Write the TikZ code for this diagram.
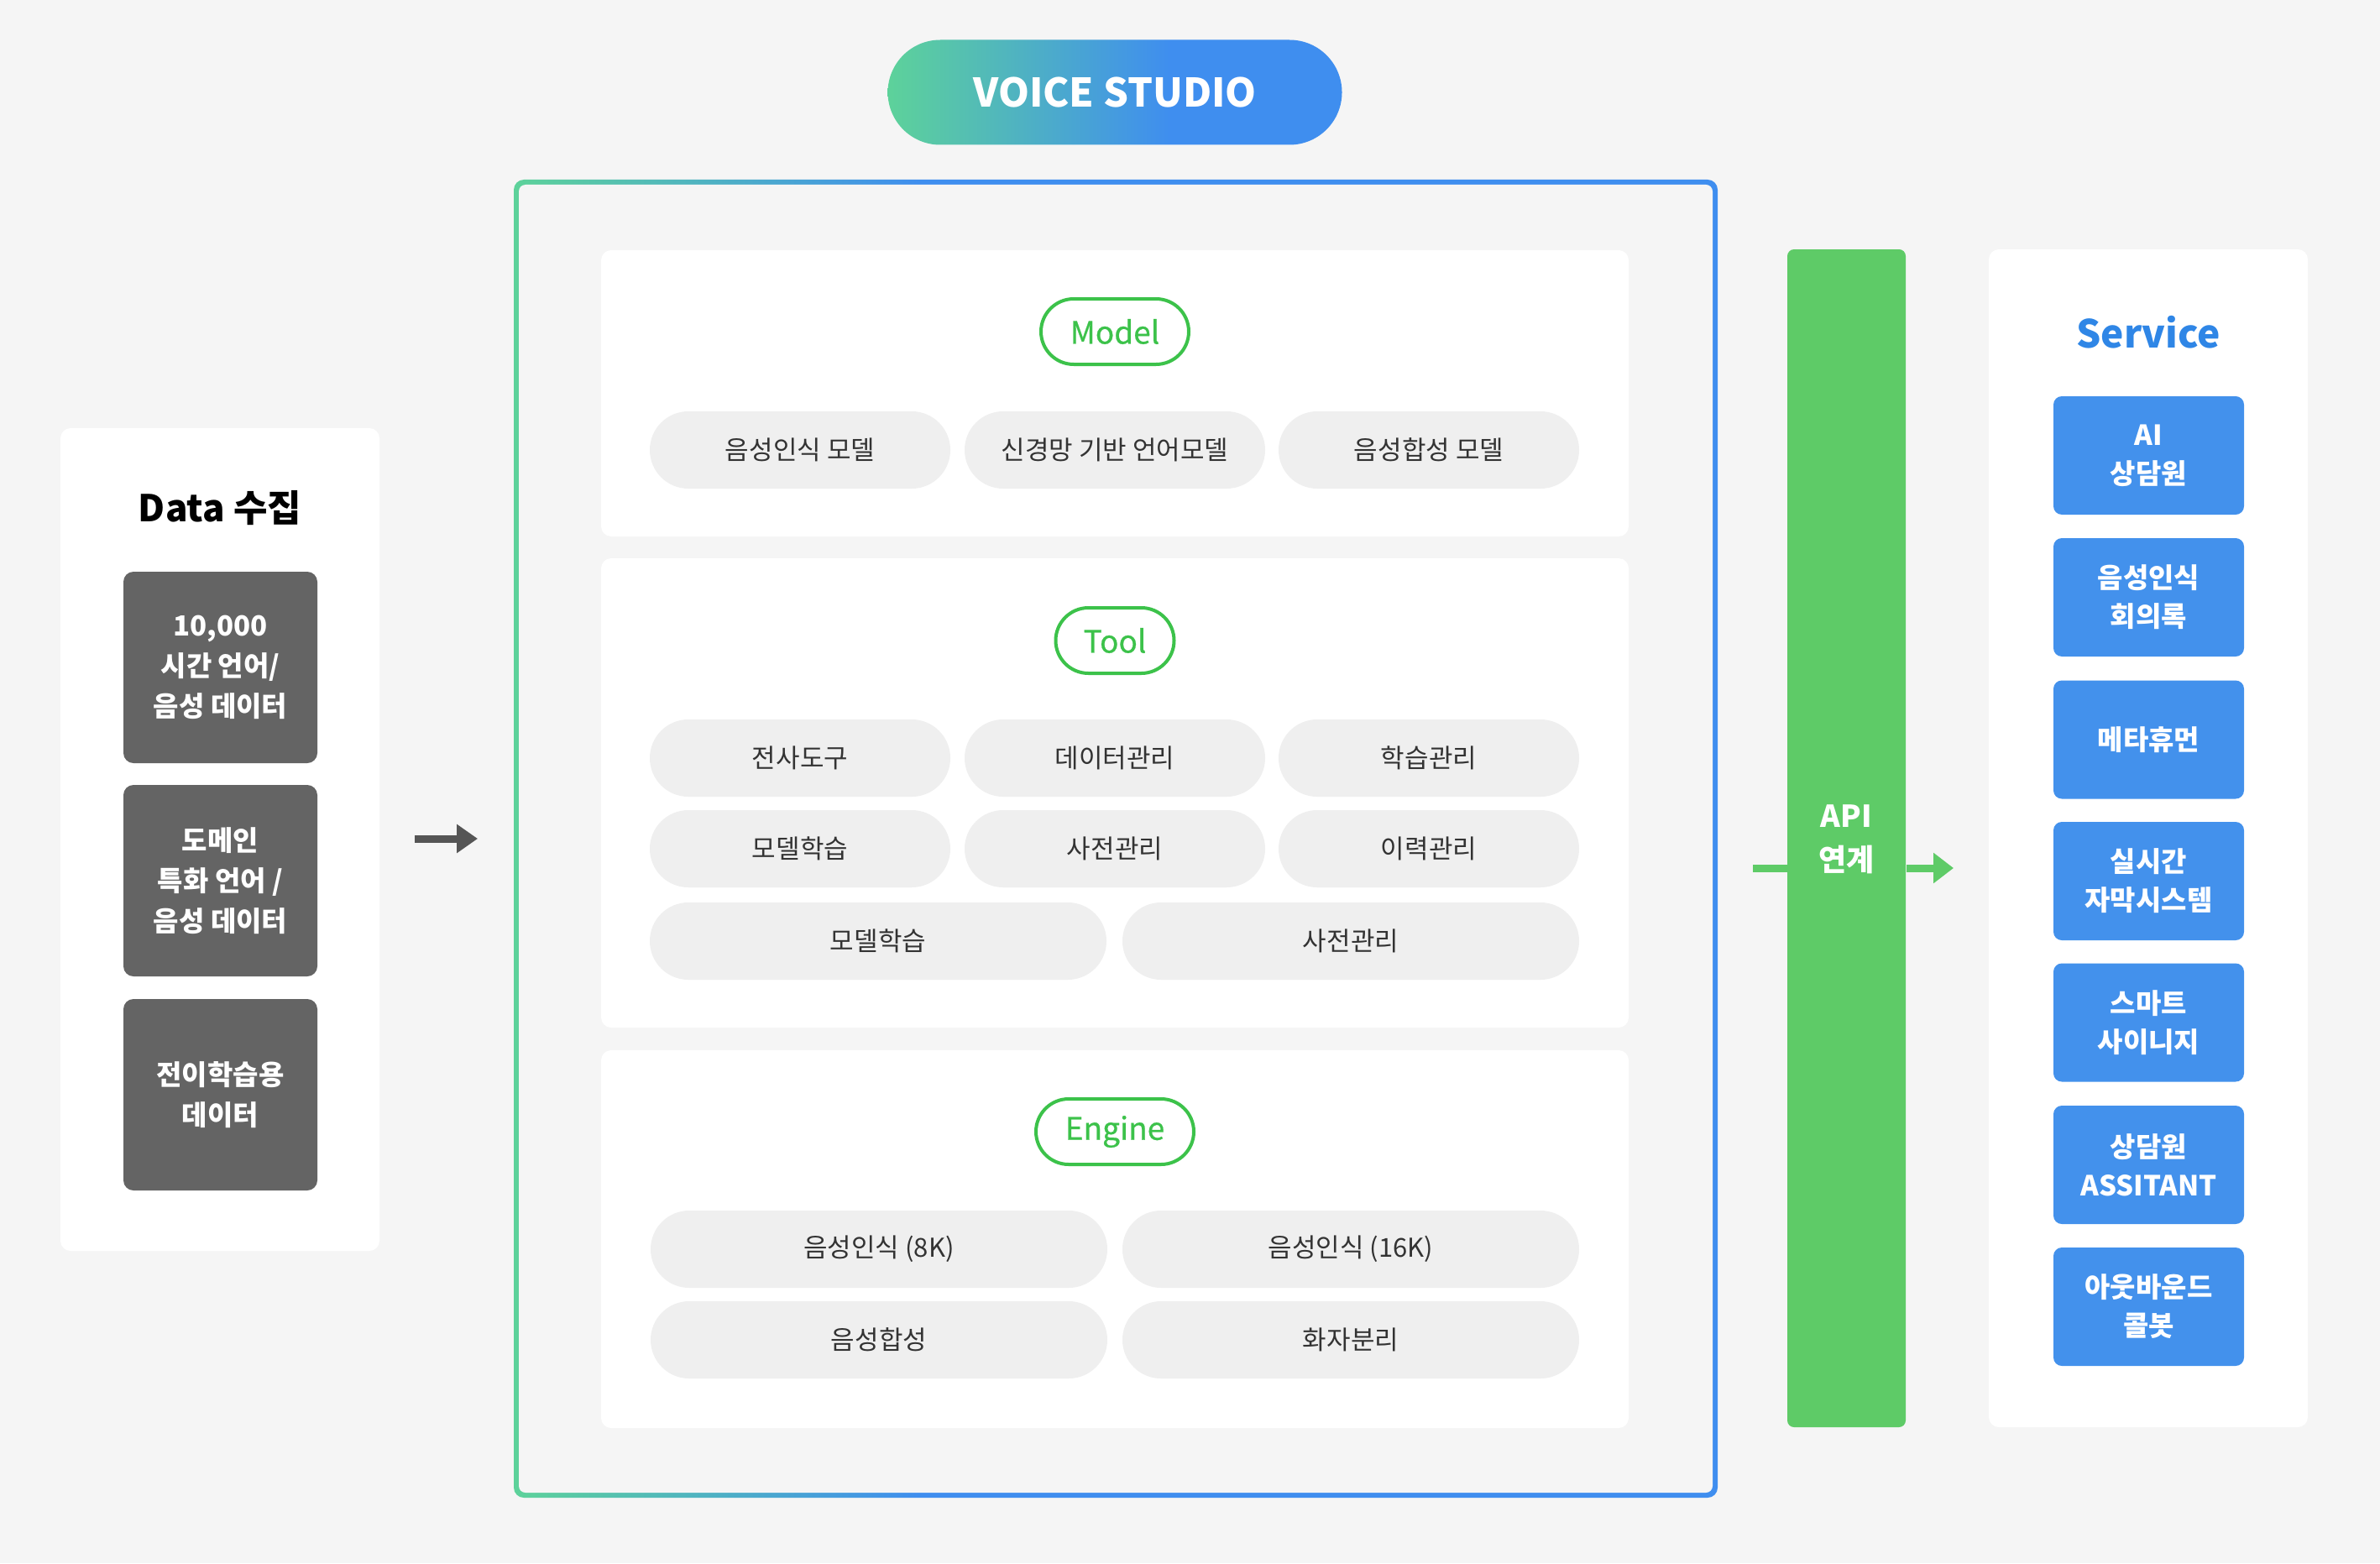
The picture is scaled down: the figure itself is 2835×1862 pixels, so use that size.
\documentclass[tikz,border=0pt]{standalone}
\usepackage{fontspec}
\setmainfont{Noto Sans CJK KR}
\usetikzlibrary{shapes.misc,arrows.meta}
\definecolor{bg}{HTML}{F5F5F5}
\definecolor{vgreen}{HTML}{5DD29A}
\definecolor{vblue}{HTML}{3F8EEF}
\definecolor{lgreen}{HTML}{3CC24A}
\definecolor{pillgray}{HTML}{EFEFEF}
\definecolor{pilltext}{HTML}{333333}
\definecolor{dgray}{HTML}{646464}
\definecolor{apigreen}{HTML}{5ECB67}
\definecolor{svcblue}{HTML}{2F86E6}
\definecolor{boxblue}{HTML}{4391EC}
\definecolor{arrgray}{HTML}{555555}
\pgfdeclarehorizontalshading{vsgrad}{100bp}{color(0bp)=(vgreen); color(25bp)=(vgreen); color(56bp)=(vblue); color(100bp)=(vblue)}
\pgfdeclarehorizontalshading{framegrad}{100bp}{color(0bp)=(vgreen); color(25bp)=(vgreen); color(42bp)=(vblue); color(100bp)=(vblue)}
\begin{document}
\begin{tikzpicture}[x=0.25pt,y=-0.25pt,
  panel/.style={fill=white, rounded corners=3pt, inner sep=0pt},
  pill/.style={rounded rectangle, fill=pillgray, minimum height=23pt, inner sep=0pt, text=pilltext, font=\fontsize{7.75pt}{9pt}\selectfont},
  pillA/.style={pill, minimum width=89.5pt},
  pillB/.style={pill, minimum width=136pt},
  lab/.style={rounded rectangle, draw=lgreen, line width=1pt, text=lgreen, fill=white, minimum height=19.5pt, inner sep=0pt, font=\fontsize{9.25pt}{11pt}\selectfont\addfontfeature{FakeBold=0.6}},
  darkbox/.style={fill=dgray, rounded corners=3pt, minimum width=57.75pt, minimum height=57pt, inner sep=0pt, text=white, align=center, font=\bfseries\fontsize{8.25pt}{12pt}\selectfont},
  bluebox/.style={fill=boxblue, rounded corners=2.5pt, minimum width=56.75pt, minimum height=35.25pt, inner sep=0pt, text=white, align=center, font=\bfseries\fontsize{8.25pt}{11.5pt}\selectfont},
  grayarrow/.style={draw=arrgray, line width=2.25pt, -{Triangle[length=6.25pt,width=8.25pt]}},
  greenline/.style={draw=apigreen, line width=2.25pt},
  greenarrow/.style={greenline, -{Triangle[length=6pt,width=8.75pt]}}
]
\useasboundingbox[fill=bg] (0,0) rectangle (2835,1862);

% title pill
\node[rounded rectangle, shade, shading=vsgrad, minimum width=135.25pt, minimum height=31.25pt, inner sep=0pt, text=white, font=\bfseries\fontsize{11.75pt}{14pt}\selectfont] (vs) at (1328,110) {VOICE STUDIO};

% main frame
\shade[shading=framegrad, rounded corners=3pt] (612,214) rectangle (2046,1784);
\fill[bg, rounded corners=2pt] (618,220) rectangle (2040,1778);

% panels
\node[panel, minimum width=306pt, minimum height=85.25pt] (pmodel) at (1328,468.5) {};
\node[panel, minimum width=306pt, minimum height=139.75pt] (ptool) at (1328,944.5) {};
\node[panel, minimum width=306pt, minimum height=112.5pt] (pengine) at (1328,1476) {};

% Model
\node[lab, minimum width=44pt] (lmodel) at (1328,395) {Model};
\node[pillA] (m1) at (953,536) {음성인식 모델};
\node[pillA] (m2) at (1328,536) {신경망 기반 언어모델};
\node[pillA] (m3) at (1702,536) {음성합성 모델};

% Tool
\node[lab, minimum width=35.25pt] (ltool) at (1328,763) {Tool};
\node[pillA] (t1) at (953,903) {전사도구};
\node[pillA] (t2) at (1328,903) {데이터관리};
\node[pillA] (t3) at (1702,903) {학습관리};
\node[pillA] (t4) at (953,1011) {모델학습};
\node[pillA] (t5) at (1328,1011) {사전관리};
\node[pillA] (t6) at (1702,1011) {이력관리};
\node[pillB] (t7) at (1046,1121) {모델학습};
\node[pillB] (t8) at (1609,1121) {사전관리};

% Engine
\node[lab, minimum width=47pt] (lengine) at (1328,1348) {Engine};
\node[pillB] (e1) at (1047,1488) {음성인식 (8K)};
\node[pillB] (e2) at (1609,1488) {음성인식 (16K)};
\node[pillB] (e3) at (1047,1596) {음성합성};
\node[pillB] (e4) at (1609,1596) {화자분리};

% Data panel
\node[panel, minimum width=95pt, minimum height=245pt] (pdata) at (262,1000) {};
\node[font=\bfseries\fontsize{11pt}{13pt}\selectfont, text=black, inner sep=0pt] (tdata) at (262,605) {Data 수집};
\node[darkbox] (d1) at (262.5,795) {10,000\\시간 언어/\\음성 데이터};
\node[darkbox] (d2) at (262.5,1049) {도메인\\특화 언어 /\\음성 데이터};
\node[darkbox] (d3) at (262.5,1304) {전이학습용\\데이터};

\coordinate (ga1) at (494,999);
\coordinate (ga2) at (569,999);
\draw[grayarrow] (ga1) -- (ga2);

% API bar
\coordinate (gA) at (2088,1034);
\coordinate (gB) at (2327,1034);
\draw[greenline] (gA) -- (2140,1034);
\node[fill=apigreen, rounded corners=2pt, minimum width=35.25pt, minimum height=350.75pt, inner sep=0pt] (api) at (2199.5,998.5) {};
\node[text=white, align=center, font=\bfseries\fontsize{9pt}{13pt}\selectfont, inner sep=0pt] (apitext) at (2199.5,1000) {API\\연계};
\draw[greenarrow] (api.east |- gB) -- (gB);

% Service panel
\node[panel, minimum width=95pt, minimum height=350.75pt] (psvc) at (2559,998.5) {};
\node[text=svcblue, font=\bfseries\fontsize{11.5pt}{13pt}\selectfont, inner sep=0pt] (tsvc) at (2559,396) {Service};
\node[bluebox] (s1) at (2559.5,542.5) {AI\\상담원};
\node[bluebox] (s2) at (2559.5,711.5) {음성인식\\회의록};
\node[bluebox] (s3) at (2559.5,881) {메타휴먼};
\node[bluebox] (s4) at (2559.5,1049.5) {실시간\\자막시스템};
\node[bluebox] (s5) at (2559.5,1218) {스마트\\사이니지};
\node[bluebox] (s6) at (2559.5,1387.5) {상담원\\ASSITANT};
\node[bluebox] (s7) at (2559.5,1556.5) {아웃바운드\\콜봇};
\end{tikzpicture}
\end{document}
